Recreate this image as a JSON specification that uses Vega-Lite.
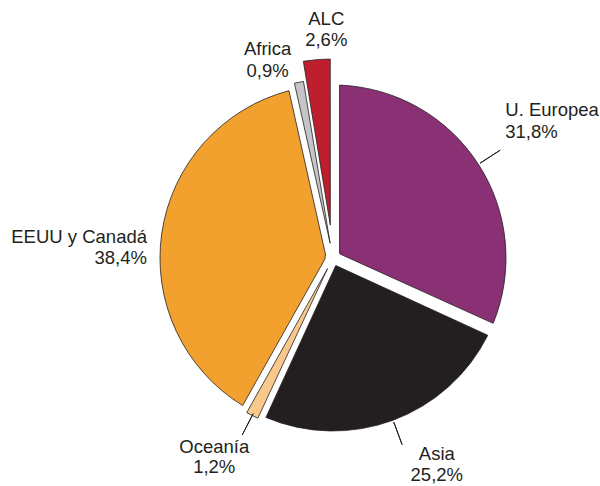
{
  "$schema": "https://vega.github.io/schema/vega-lite/v6.json",
  "width": 534,
  "height": 456,
  "autosize": {"type": "none"},
  "padding": {"left": 66, "top": 30, "right": 0, "bottom": 0},
  "background": "white",
  "view": {"stroke": null},
  "config": {"text": {"font": "Liberation Sans"}},
  "data": {
    "values": [
      {"n": 1, "region": "U. Europea", "share": 31.8, "label": "U. Europea\n31,8%"},
      {"n": 2, "region": "Asia", "share": 25.2, "label": "Asia\n25,2%"},
      {"n": 3, "region": "Oceanía", "share": 1.2, "label": "Oceanía\n1,2%"},
      {"n": 4, "region": "EEUU y Canadá", "share": 38.4, "label": "EEUU y Canadá\n38,4%"},
      {"n": 5, "region": "Africa", "share": 0.9, "label": "Africa\n0,9%"},
      {"n": 6, "region": "ALC", "share": 2.6, "label": "ALC\n2,6%"}
    ]
  },
  "transform": [
    {"stack": "share", "groupby": [], "sort": [{"field": "n", "order": "ascending"}], "as": ["t0", "t1"]}
  ],
  "layer": [
    {
      "transform": [{"filter": {"field": "region", "oneOf": ["U. Europea", "Asia", "EEUU y Canadá"]}}],
      "mark": {"type": "arc", "radius": 173, "radius2": 8, "padAngle": 0.0755, "stroke": "#231F20", "strokeWidth": 0.8},
      "encoding": {
        "theta": {"field": "t0", "type": "quantitative", "scale": {"domain": [0, 100.1]}},
        "theta2": {"field": "t1"},
        "color": {"field": "region", "type": "nominal", "legend": null,
          "scale": {"domain": ["U. Europea", "Asia", "Oceanía", "EEUU y Canadá", "Africa", "ALC"],
                    "range": ["#8A3074", "#231F20", "#F9C98C", "#F2A02E", "#C4C5C8", "#BE1E2D"]}}
      }
    },
    {
      "transform": [{"filter": {"field": "region", "equal": "Oceanía"}}],
      "mark": {"type": "arc", "radius": 177, "radius2": 12, "padAngle": 0.005, "stroke": "#231F20", "strokeWidth": 0.8},
      "encoding": {
        "theta": {"field": "t0", "type": "quantitative", "scale": {"domain": [0, 100.1]}},
        "theta2": {"field": "t1"},
        "color": {"field": "region", "type": "nominal", "legend": null}
      }
    },
    {
      "transform": [{"filter": {"field": "region", "equal": "Africa"}}],
      "mark": {"type": "arc", "radius": 179, "radius2": 15, "padAngle": 0.005, "stroke": "#231F20", "strokeWidth": 0.8},
      "encoding": {
        "theta": {"field": "t0", "type": "quantitative", "scale": {"domain": [0, 100.1]}},
        "theta2": {"field": "t1"},
        "color": {"field": "region", "type": "nominal", "legend": null}
      }
    },
    {
      "transform": [{"filter": {"field": "region", "equal": "ALC"}}],
      "mark": {"type": "arc", "radius": 199, "radius2": 33, "padAngle": 0.027, "stroke": "#231F20", "strokeWidth": 0.8},
      "encoding": {
        "theta": {"field": "t0", "type": "quantitative", "scale": {"domain": [0, 100.1]}},
        "theta2": {"field": "t1"},
        "color": {"field": "region", "type": "nominal", "legend": null}
      }
    },
    {
      "transform": [{"filter": {"field": "region", "oneOf": ["U. Europea", "Asia", "Oceanía"]}}],
      "mark": {"type": "arc", "filled": false, "radius": 199, "radius2": 175, "padAngle": 3.1, "stroke": "#231F20", "strokeWidth": 1},
      "encoding": {
        "theta": {"field": "t0", "type": "quantitative", "scale": {"domain": [0, 100.1]}},
        "theta2": {"field": "t1"}
      }
    },
    {
      "mark": {"type": "text", "radius": 230, "align": "center", "baseline": "middle", "dx": 12, "dy": -10, "fontSize": 18.5, "lineHeight": 21, "lineBreak": "\n", "color": "#231F20"},
      "encoding": {
        "theta": {"field": "share", "type": "quantitative", "stack": true, "scale": {"domain": [0, 100.1]}},
        "order": {"field": "n", "type": "quantitative"},
        "text": {"condition": {"test": "datum.region === 'ALC'", "field": "label", "type": "nominal"}, "value": ""}
      }
    },
    {
      "mark": {"type": "text", "radius": 202, "align": "center", "baseline": "middle", "dx": -27, "dy": -11, "fontSize": 18.5, "lineHeight": 22, "lineBreak": "\n", "color": "#231F20"},
      "encoding": {
        "theta": {"field": "share", "type": "quantitative", "stack": true, "scale": {"domain": [0, 100.1]}},
        "order": {"field": "n", "type": "quantitative"},
        "text": {"condition": {"test": "datum.region === 'Africa'", "field": "label", "type": "nominal"}, "value": ""}
      }
    },
    {
      "mark": {"type": "text", "radius": 205, "align": "left", "baseline": "middle", "dy": -37, "fontSize": 18.5, "lineHeight": 22, "lineBreak": "\n", "color": "#231F20"},
      "encoding": {
        "theta": {"field": "share", "type": "quantitative", "stack": true, "scale": {"domain": [0, 100.1]}},
        "order": {"field": "n", "type": "quantitative"},
        "text": {"condition": {"test": "datum.region === 'U. Europea'", "field": "label", "type": "nominal"}, "value": ""}
      }
    },
    {
      "mark": {"type": "text", "radius": 224, "align": "center", "baseline": "middle", "dx": 26, "dy": -14, "fontSize": 18.5, "lineHeight": 21, "lineBreak": "\n", "color": "#231F20"},
      "encoding": {
        "theta": {"field": "share", "type": "quantitative", "stack": true, "scale": {"domain": [0, 100.1]}},
        "order": {"field": "n", "type": "quantitative"},
        "text": {"condition": {"test": "datum.region === 'Asia'", "field": "label", "type": "nominal"}, "value": ""}
      }
    },
    {
      "mark": {"type": "text", "radius": 223, "align": "center", "baseline": "middle", "dx": -17, "dy": -9, "fontSize": 18.5, "lineHeight": 20, "lineBreak": "\n", "color": "#231F20"},
      "encoding": {
        "theta": {"field": "share", "type": "quantitative", "stack": true, "scale": {"domain": [0, 100.1]}},
        "order": {"field": "n", "type": "quantitative"},
        "text": {"condition": {"test": "datum.region === 'Oceanía'", "field": "label", "type": "nominal"}, "value": ""}
      }
    },
    {
      "mark": {"type": "text", "radius": 188, "align": "right", "baseline": "middle", "dy": 6, "fontSize": 18.5, "lineHeight": 21.5, "lineBreak": "\n", "color": "#231F20"},
      "encoding": {
        "theta": {"field": "share", "type": "quantitative", "stack": true, "scale": {"domain": [0, 100.1]}},
        "order": {"field": "n", "type": "quantitative"},
        "text": {"condition": {"test": "datum.region === 'EEUU y Canadá'", "field": "label", "type": "nominal"}, "value": ""}
      }
    }
  ]
}
